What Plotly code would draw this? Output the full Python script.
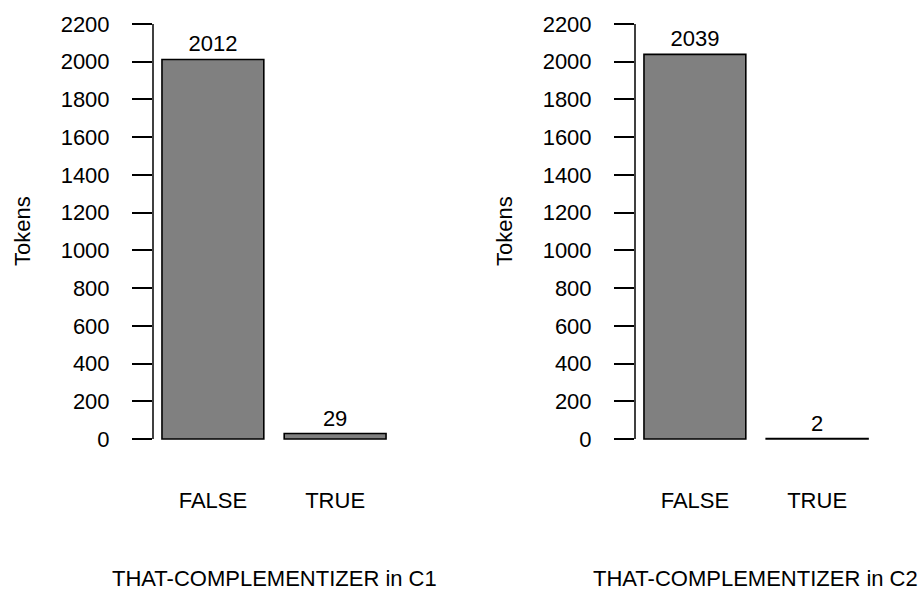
import plotly.graph_objects as go

categories = ["FALSE", "TRUE"]
c1_values = [2012, 29]
c2_values = [2039, 2]
y_ticks = list(range(0, 2201, 200))
panel_titles = ["THAT-COMPLEMENTIZER in C1", "THAT-COMPLEMENTIZER in C2"]
y_title = "Tokens"

W, H = 920, 589
FONT = "Liberation Sans, Arial, sans-serif"
FS = 22

fig = go.Figure()
for i, vals in enumerate([c1_values, c2_values]):
    sfx = "" if i == 0 else str(i + 1)
    fig.add_trace(go.Bar(
        x=categories, y=vals, xaxis="x" + sfx, yaxis="y" + sfx,
        marker=dict(color="#808080", line=dict(color="black", width=1.6)),
        text=[str(v) for v in vals], textposition="outside", cliponaxis=False,
        textfont=dict(family=FONT, size=FS, color="black"), showlegend=False,
        width=0.8333,
    ))

ydom = [(589 - 455.6) / H, (589 - 7.4) / H]
xdoms = [[153 / W, 395 / W], [635 / W, 877 / W]]

axis_common_y = dict(
    range=[-88, 2288], tickmode="array", tickvals=y_ticks,
    ticktext=[str(t) for t in y_ticks], ticks="outside", ticklen=20,
    tickwidth=1.5, tickcolor="black", showline=False, showgrid=False,
    zeroline=False, ticklabelstandoff=18,
    tickfont=dict(family=FONT, size=FS, color="black"), domain=ydom,
)
axis_common_x = dict(
    range=[-0.49, 1.49], type="category", showline=False, showgrid=False,
    zeroline=False, ticks="", ticklabelstandoff=29,
    tickfont=dict(family=FONT, size=FS, color="black"),
)

fig.update_layout(
    width=W, height=H, margin=dict(l=0, r=0, t=0, b=0),
    paper_bgcolor="white", plot_bgcolor="white",
    xaxis=dict(domain=xdoms[0], anchor="y", **axis_common_x),
    yaxis=dict(anchor="x", **axis_common_y),
    xaxis2=dict(domain=xdoms[1], anchor="y2", **axis_common_x),
    yaxis2=dict(anchor="x2", **axis_common_y),
)

shapes = []
annotations = []
for i in range(2):
    sfx = "" if i == 0 else str(i + 1)
    shapes.append(dict(type="line", xref=f"x{sfx} domain", yref="y" + sfx,
                       x0=0, x1=0, y0=y_ticks[0], y1=y_ticks[-1],
                       line=dict(color="black", width=1.5)))
    xc = (xdoms[i][0] + xdoms[i][1]) / 2
    annotations.append(dict(text=panel_titles[i], xref="paper", yref="paper",
                            x=xc, y=(H - 578) / H, xanchor="center", yanchor="middle",
                            showarrow=False, font=dict(family=FONT, size=FS, color="black")))
    annotations.append(dict(text=y_title, xref="paper", yref="paper",
                            x=(22 if i == 0 else 504) / W, y=(H - 231) / H,
                            xanchor="center", yanchor="middle", textangle=-90,
                            showarrow=False, font=dict(family=FONT, size=FS, color="black")))
fig.update_layout(shapes=shapes, annotations=annotations)

fig.write_html("out.html", config={"displayModeBar": False},
               post_script="document.body.style.margin='0';document.body.style.overflow='hidden';")
